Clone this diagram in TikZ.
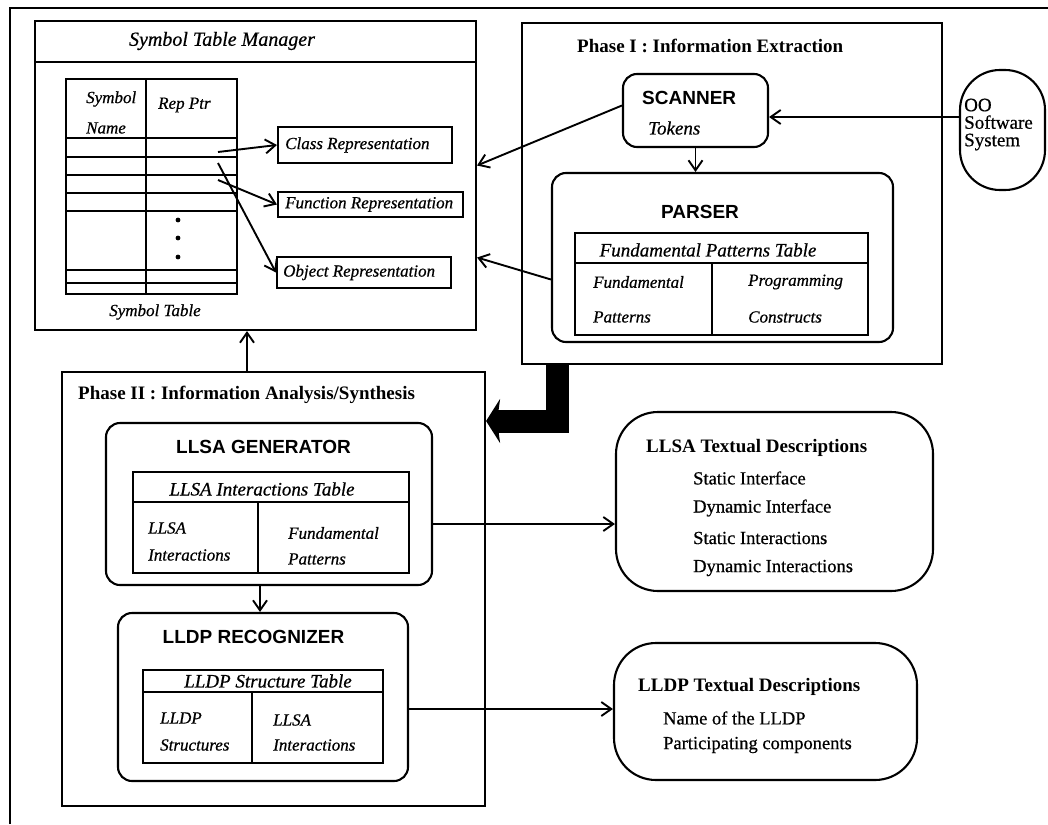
\documentclass[tikz,border=0pt]{standalone}
\usepackage{fontspec}
\setmainfont{Liberation Serif}
\setsansfont{Liberation Sans}
\newfontfamily\heavyserif{Liberation Serif}[FakeBold=0.6]
\usetikzlibrary{arrows.meta}

\begin{document}
\begin{tikzpicture}[x=1pt,y=-1pt,
  box/.style={draw, line width=2.1pt, inner sep=0pt},
  rbox/.style={box, rounded corners=14pt},
  tline/.style={line width=2pt},
  arr/.style={line width=1.9pt, -{Straight Barb[length=10pt,width=14pt]}},
  itf/.style={font=\fontsize{17}{20}\selectfont\heavyserif\itshape, inner sep=0pt},
  tabt/.style={font=\fontsize{19}{22}\selectfont\heavyserif\itshape, inner sep=0pt},
  sb/.style={font=\fontsize{19}{22}\selectfont\sffamily\bfseries, inner sep=0pt},
  bt/.style={font=\fontsize{19}{22}\selectfont\bfseries, inner sep=0pt},
  rm/.style={font=\fontsize{18.5}{22}\selectfont\heavyserif, inner sep=0pt},
]
\fill[white] (0,0) rectangle (1048,824);
\useasboundingbox (0,0) rectangle (1048,824);

% outer frame (top and left edges)
\draw[tline] (10,824) -- (10,8) -- (1048,8);

% ---------------- Symbol Table Manager ----------------
\node[box, minimum width=441pt, minimum height=309pt] (stm) at (255.5,175.5) {};
\draw[tline] (35,62) -- (476,62);
\node[tabt, font=\fontsize{20}{22}\selectfont\heavyserif\itshape] (stmt) at (222,41) {Symbol Table Manager};

% symbol table
\node[box, minimum width=171pt, minimum height=215pt] (st) at (151.5,186.5) {};
\draw[tline] (146,79) -- (146,294);
\foreach \yy in {138,157,175,193,211,270,283}
  \draw[tline] (66,\yy) -- (237,\yy);
\foreach \yy in {220,238,257}
  \fill (178,\yy) circle (2.4pt);
\node[itf, anchor=west] (hsym) at (86,99) {Symbol};
\node[itf, anchor=west] (hname) at (86,128) {Name};
\node[itf, anchor=west] (hrep) at (158,105) {Rep Ptr};
\node[itf] (stl) at (155,312) {Symbol Table};

% representation boxes
\node[box, minimum width=174pt, minimum height=36pt] (cls) at (365,145) {};
\node[itf, anchor=west] (clst) at (285,145) {Class Representation};
\node[box, minimum width=185pt, minimum height=25pt] (fn) at (370.5,204.5) {};
\node[itf, anchor=west] (fnt) at (285,204.5) {Function Representation};
\node[box, minimum width=174pt, minimum height=31pt] (obj) at (364,272.5) {};
\node[itf, anchor=west] (objt) at (283,272.5) {Object Representation};

\coordinate (r1) at (218,152);
\coordinate (r2) at (218,163);
\coordinate (r3) at (218,180);
\draw[arr] (r1) -- (cls.west);
\draw[arr] (r2) -- (obj.west);
\draw[arr] (r3) -- (fn.west);

% ---------------- Phase I ----------------
\node[box, minimum width=420pt, minimum height=341pt] (p1) at (732,193.5) {};
\node[bt, anchor=west] (p1t) at (577,46) {Phase I : Information Extraction};

\node[rbox, minimum width=145pt, minimum height=73pt] (sc) at (695.5,110.5) {};
\node[sb, anchor=west] (sct) at (642,98) {SCANNER};
\node[tabt, anchor=west] (tok) at (648,128) {Tokens};

\node[rbox, minimum width=341pt, minimum height=169pt] (pa) at (722.5,257.5) {};
\node[sb] (pat) at (700,212) {PARSER};
\node[box, minimum width=293pt, minimum height=102pt] (fpt) at (721.5,284) {};
\draw[tline] (575,263) -- (868,263);
\draw[tline] (712,263) -- (712,335);
\node[tabt] (fptt) at (708,250) {Fundamental Patterns Table};
\node[itf, anchor=west] (fp1) at (593,282) {Fundamental};
\node[itf, anchor=west] (fp2) at (593,317) {Patterns};
\node[itf, anchor=west] (pc1) at (748,282) {Programming};
\node[itf, anchor=west] (pc2) at (748,317) {Constructs};

% OO software system
\node[box, rounded corners=40pt, minimum width=85pt, minimum height=120pt] (oo) at (1002.5,130) {};
\node[rm, anchor=west, align=left, font=\fontsize{19}{17.5}\selectfont\heavyserif] (oot) at (964,124.5) {OO\\Software\\System};

\draw[arr] ([yshift=13pt]oo.west) -- ([yshift=13pt]oo.west -| sc.east);
\draw[arr] (sc.south) -- (sc.south |- pa.north);
\draw[arr] ([yshift=5pt]sc.west) -- ([yshift=10pt]stm.east);
\draw[arr] ([yshift=-22pt]pa.west) -- ([yshift=-82pt]stm.east);

% ---------------- Phase II ----------------
\node[box, minimum width=423pt, minimum height=434pt] (p2) at (273.5,589) {};
\node[bt, anchor=west] (p2t) at (78,395) {Phase II : Information Analysis/Synthesis};

\draw[arr] ([xshift=-26.5pt]p2.north) -- ([xshift=-26.5pt]p2.north |- stm.south);

% LLSA generator
\node[rbox, minimum width=326pt, minimum height=162pt] (gen) at (269,504) {};
\node[sb] (gent) at (263.5,447) {LLSA GENERATOR};
\node[box, minimum width=276pt, minimum height=101pt] (lit) at (271,522.5) {};
\draw[tline] (133,502) -- (409,502);
\draw[tline] (258,502) -- (258,573);
\node[tabt] (litt) at (262,489) {LLSA Interactions Table};
\node[itf, anchor=west] (li1) at (148,528) {LLSA};
\node[itf, anchor=west] (li2) at (148,555) {Interactions};
\node[itf, anchor=west] (lf1) at (288,533) {Fundamental};
\node[itf, anchor=west] (lf2) at (288,559) {Patterns};

% LLDP recognizer
\node[rbox, minimum width=290pt, minimum height=168pt] (rec) at (263,697) {};
\node[sb] (rect) at (253.5,637) {LLDP RECOGNIZER};
\node[box, minimum width=240pt, minimum height=93pt] (lst) at (263,716.5) {};
\draw[tline] (143,692) -- (383,692);
\draw[tline] (252,692) -- (252,763);
\node[tabt] (lstt) at (268,681) {LLDP Structure Table};
\node[itf, anchor=west] (ls1) at (160,718) {LLDP};
\node[itf, anchor=west] (ls2) at (160,745) {Structures};
\node[itf, anchor=west] (ls3) at (273,720) {LLSA};
\node[itf, anchor=west] (ls4) at (273,745) {Interactions};

\draw[arr] ([xshift=-9pt]gen.south) -- ([xshift=-9pt]gen.south |- rec.north);

% thick flow from Phase I into Phase II
\draw[line width=23pt, line join=miter, -{Stealth[length=14pt,width=44pt,inset=3pt]}]
  ([xshift=-175pt]p1.south) |- ([yshift=168pt]p2.east);

% ---------------- textual descriptions ----------------
\node[box, rounded corners=42pt, minimum width=317pt, minimum height=179pt] (ltd) at (774.5,501.5) {};
\node[bt, anchor=west] (ltdt) at (646,448) {LLSA Textual Descriptions};
\node[rm, anchor=west] (ltd1) at (693,478) {Static Interface};
\node[rm, anchor=west] (ltd2) at (693,508) {Dynamic Interface};
\node[rm, anchor=west] (ltd3) at (693,538) {Static Interactions};
\node[rm, anchor=west] (ltd4) at (693,568) {Dynamic Interactions};

\node[box, rounded corners=42pt, minimum width=303pt, minimum height=137pt] (dtd) at (765.5,711.5) {};
\node[bt, anchor=west] (dtdt) at (638,687) {LLDP Textual Descriptions};
\node[rm, anchor=west] (dtd1) at (663,718) {Name of the LLDP};
\node[rm, anchor=west] (dtd2) at (663,745) {Participating components};

\draw[arr] ([yshift=-20pt]gen.east) -- ([yshift=-20pt]gen.east -| ltd.west);
\draw[arr] ([yshift=-12pt]rec.east) -- ([yshift=-12pt]rec.east -| dtd.west);

\end{tikzpicture}
\end{document}
